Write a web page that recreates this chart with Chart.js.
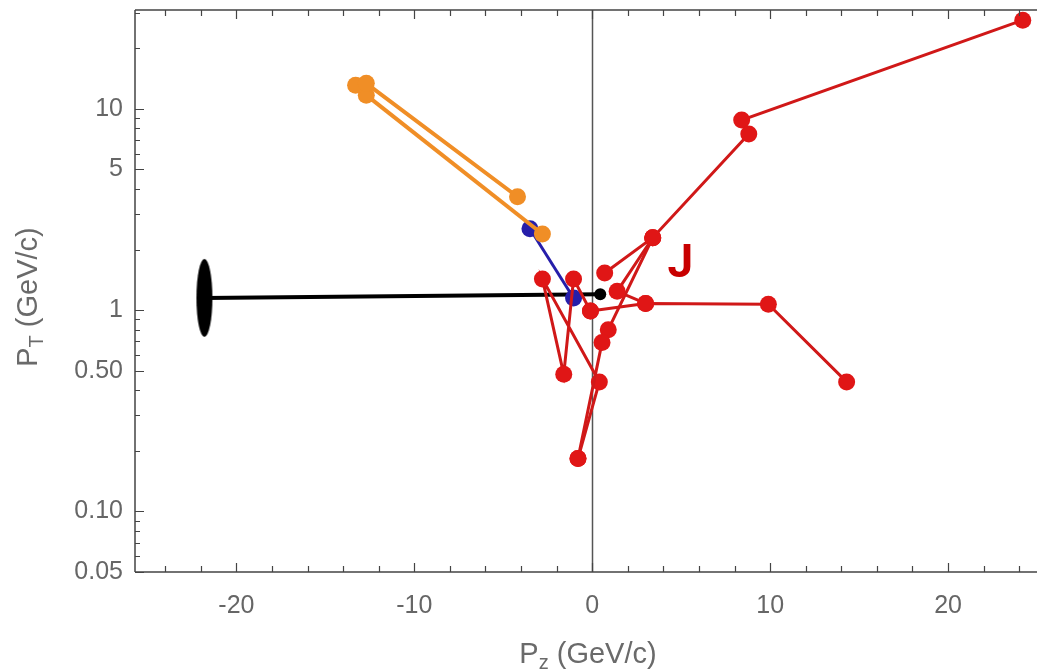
<!DOCTYPE html>
<html><head><meta charset="utf-8">
<script src="https://cdn.jsdelivr.net/npm/chart.js@4/dist/chart.umd.min.js"></script>
<style>html,body{margin:0;padding:0;background:#fff}#wrap{width:1037px;height:671px;position:relative}</style>
</head><body><div id="wrap"><canvas id="c"></canvas></div>
<script>
// ---- tick labels ----
const xTickValues = [-20, -10, 0, 10, 20];
const xTickLabels = ["-20", "-10", "0", "10", "20"];
const yTickValues = [0.05, 0.1, 0.5, 1, 5, 10];
const yTickLabels = ["0.05", "0.10", "0.50", "1", "5", "10"];
const yMinorValues = [0.06,0.07,0.08,0.09,0.2,0.3,0.4,0.6,0.7,0.8,0.9,2,3,4,6,7,8,9,20,30];

// ---- series values [Pz, PT] ----
const redPathA = [[24.2,27.6],[8.4,8.8],[8.8,7.5],[3.4,2.29],[0.7,1.53]];
const redPathB = [[3.4,2.29],[1.4,1.24],[3.0,1.08]];
const redPathC = [[-0.1,0.99],[3.0,1.08],[9.9,1.07],[14.3,0.44]];
const redPathD = [[3.4,2.29],[0.9,0.80],[0.55,0.69],[-0.8,0.183]];
const redPathE = [[-0.8,0.183],[0.4,0.44],[-2.8,1.43],[-1.6,0.48],[-1.05,1.43],[-0.1,0.99]];
const orangeA = [[-13.3,13.1],[-12.7,13.4],[-4.2,3.66]];
const orangeB = [[-12.7,11.7],[-2.8,2.39]];
const bluePath = [[-3.5,2.54],[-1.05,1.15]];
const blackPath = [[-21.8,1.15],[0.45,1.2]];
const labelJ = {text: "J", x: 4.95, y: 1.66};

const pts = a => a.map(p => ({x: p[0], y: p[1]}));

const RED = 'rgb(224,22,22)', RED_L = 'rgb(208,24,24)';
const ORANGE = 'rgb(240,142,38)';
const BLUE = 'rgb(38,30,170)';

// ellipse marker for the black track
const ell = document.createElement('canvas');
ell.width = 18; ell.height = 80;
(function(){const c = ell.getContext('2d'); c.fillStyle = '#000'; c.beginPath(); c.ellipse(9,40,8,39,0,0,Math.PI*2); c.fill();})();

function redDs(a){return {data: pts(a), showLine:true, borderColor:RED_L, borderWidth:3, backgroundColor:RED, pointBackgroundColor:RED, pointBorderColor:RED, pointRadius:8.5, pointBorderWidth:0};}

const FONT = 'Arial, "Liberation Sans", sans-serif';

const framePlugin = {
  id: 'frame',
  beforeDatasetsDraw(chart){
    const {ctx, chartArea:a, scales:{x}} = chart;
    ctx.save(); ctx.strokeStyle = '#555'; ctx.lineWidth = 1.5;
    const px = Math.round(x.getPixelForValue(0)) + 0.5;
    ctx.beginPath(); ctx.moveTo(px, a.top); ctx.lineTo(px, a.bottom); ctx.stroke();
    ctx.restore();
  },
  afterDatasetsDraw(chart){
    const {ctx, scales:{x, y}} = chart;
    ctx.save();
    ctx.fillStyle = '#c80000';
    ctx.font = 'bold 46px Roboto, Arial, sans-serif';
    ctx.textAlign = 'center'; ctx.textBaseline = 'middle';
    ctx.fillText(labelJ.text, x.getPixelForValue(labelJ.x), y.getPixelForValue(labelJ.y));
    ctx.restore();
  },
  afterDraw(chart){
    const {ctx, chartArea:a, scales:{x, y}} = chart;
    ctx.save();
    ctx.strokeStyle = '#444'; ctx.lineWidth = 1.5;
    ctx.beginPath();
    ctx.moveTo(a.left, a.top); ctx.lineTo(a.right, a.top);
    ctx.moveTo(a.left, a.top); ctx.lineTo(a.left, a.bottom);
    ctx.moveTo(a.left, a.bottom); ctx.lineTo(a.right, a.bottom);
    ctx.stroke();
    ctx.lineWidth = 1.2;
    ctx.beginPath();
    for (let v = -24; v <= 24; v += 2) {
      const px = Math.round(x.getPixelForValue(v)) + 0.5;
      const L = (v % 10 === 0) ? 9 : 6;
      ctx.moveTo(px, a.bottom); ctx.lineTo(px, a.bottom - L);
      ctx.moveTo(px, a.top); ctx.lineTo(px, a.top + L);
    }
    yTickValues.forEach(v => { const py = Math.round(y.getPixelForValue(v)) + 0.5; ctx.moveTo(a.left, py); ctx.lineTo(a.left + 9, py); });
    yMinorValues.forEach(v => { const py = Math.round(y.getPixelForValue(v)) + 0.5; if (py > a.top) { ctx.moveTo(a.left, py); ctx.lineTo(a.left + 5, py); } });
    ctx.stroke();

    // axis titles
    ctx.fillStyle = '#6a6a6a';
    ctx.textBaseline = 'alphabetic'; ctx.textAlign = 'left';
    const big = '29px ' + FONT, small = '20px ' + FONT;
    function title(main, sub, rest){
      ctx.font = big; const w1 = ctx.measureText(main).width; const w3 = ctx.measureText(rest).width;
      ctx.font = small; const w2 = ctx.measureText(sub).width;
      const tot = w1 + w2 + w3; let cx = -tot/2;
      ctx.font = big; ctx.fillText(main, cx, 0); cx += w1;
      ctx.font = small; ctx.fillText(sub, cx, 6); cx += w2;
      ctx.font = big; ctx.fillText(rest, cx, 0);
    }
    ctx.save(); ctx.translate(588, 663); title('P', 'z', ' (GeV/c)'); ctx.restore();
    ctx.save(); ctx.translate(37, 297); ctx.rotate(-Math.PI/2); title('P', 'T', ' (GeV/c)'); ctx.restore();
    ctx.restore();
  }
};

new Chart(document.getElementById('c'), {
  type: 'scatter',
  data: { datasets: [
    redDs(redPathA), redDs(redPathB), redDs(redPathC), redDs(redPathD), redDs(redPathE),
    {data: pts(orangeA), showLine:true, borderColor:ORANGE, borderWidth:4, pointBackgroundColor:ORANGE, pointBorderWidth:0, pointRadius:8.5},
    {data: pts(orangeB), showLine:true, borderColor:ORANGE, borderWidth:4, pointBackgroundColor:ORANGE, pointBorderWidth:0, pointRadius:8.5},
    {data: pts(bluePath), showLine:true, borderColor:BLUE, borderWidth:3, pointBackgroundColor:BLUE, pointBorderWidth:0, pointRadius:8.5},
    {data: pts(blackPath), showLine:true, borderColor:'#000', borderWidth:4, pointBackgroundColor:'#000', pointBorderWidth:0, pointRadius:[9,6], pointStyle:[ell,'circle']}
  ]},
  options: {
    responsive: true, maintainAspectRatio: false, animation: false,
    events: [],
    layout: {autoPadding: false, padding: {top: 10, left: 0, right: 0, bottom: 0}},
    plugins: {legend: {display:false}, tooltip: {enabled:false}},
    scales: {
      x: {
        type: 'linear', min: -25.7, max: 25.0,
        grid: {display:false, drawTicks:false}, border: {display:false},
        afterBuildTicks: s => { s.ticks = xTickValues.map(v => ({value: v})); },
        afterFit: s => { s.height = 99; s.paddingLeft = 0; s.paddingRight = 0; s.paddingTop = 0; s.paddingBottom = 0; },
        ticks: {padding: 19, color:'#666', font:{size:25, family: FONT}, maxRotation:0,
          callback: (v) => xTickLabels[xTickValues.indexOf(v)] }
      },
      y: {
        type: 'logarithmic', min: 0.05, max: 31,
        grid: {display:false, drawTicks:false}, border: {display:false},
        afterBuildTicks: s => { s.ticks = yTickValues.map(v => ({value: v})); },
        afterFit: s => { s.width = 135; s.paddingTop = 0; s.paddingBottom = 0; s.paddingLeft = 0; s.paddingRight = 0; },
        ticks: {padding: 12, color:'#666', font:{size:25, family: FONT},
          callback: (v) => yTickLabels[yTickValues.indexOf(v)] }
      }
    }
  },
  plugins: [framePlugin]
});
</script>
</body></html>
